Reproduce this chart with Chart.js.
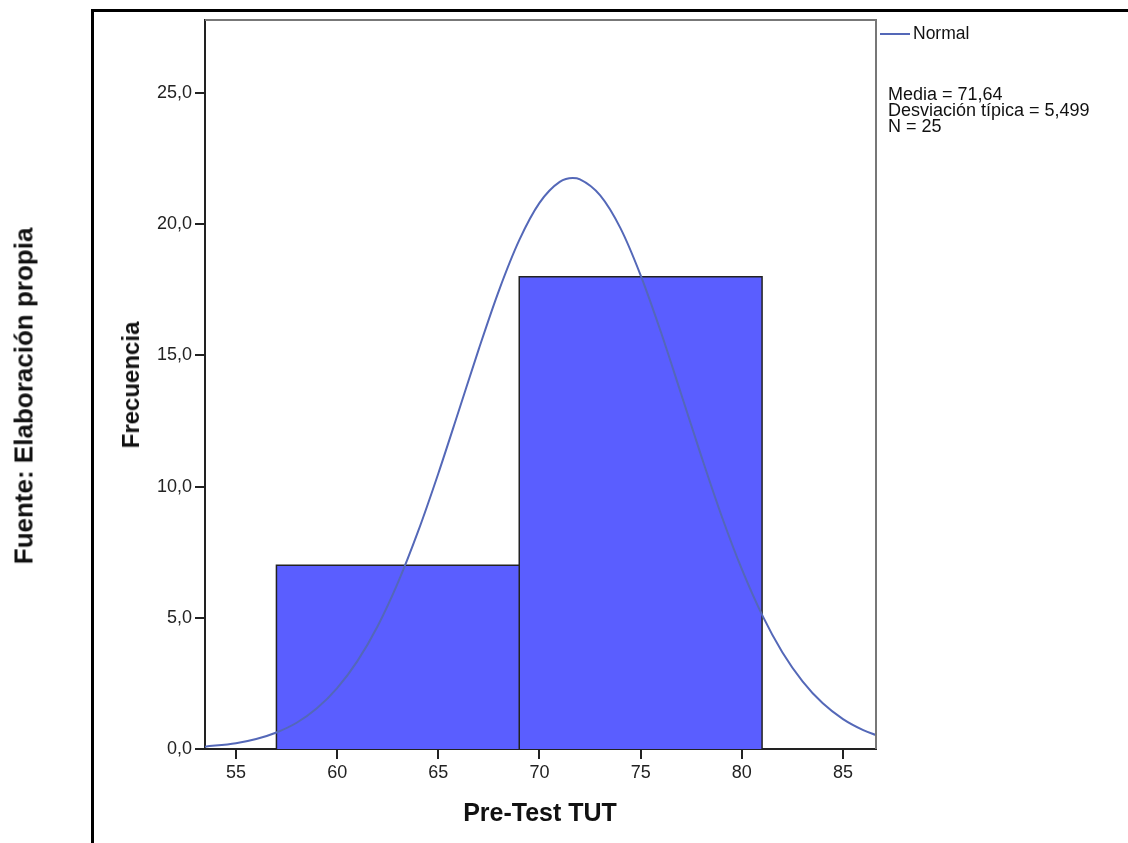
<!DOCTYPE html>
<html>
<head>
<meta charset="utf-8">
<script src="https://cdn.jsdelivr.net/npm/chart.js@4/dist/chart.umd.min.js"></script>
<style>
  body { margin: 0; background: #fff; font-family: "Liberation Sans", Arial, sans-serif; }
  #wrap { position: relative; width: 1128px; height: 843px; overflow: hidden; }
  #frame { position: absolute; left: 91px; top: 9px; width: 1200px; height: 1000px; border-top: 3px solid #000; border-left: 3px solid #000; }
  canvas { position: absolute; left: 0; top: 0; }
  .txt { position: absolute; white-space: nowrap; color: #111; }
  .vert { transform: translate(-50%, -50%) rotate(-90deg); font-weight: bold; }
  .title { font-weight: bold; transform: translate(-50%, -50%); }
</style>
</head>
<body>
<div id="wrap">
  <div id="frame"></div>
  <canvas id="myChart" width="1128" height="843"></canvas>
  <div class="txt vert" style="left:24px; top:396px; font-size:26px;">Fuente: Elaboración propia</div>
  <div class="txt vert" style="left:131px; top:385px; font-size:24px;">Frecuencia</div>
  <div class="txt title" style="left:540px; top:812px; font-size:25px;">Pre-Test TUT</div>
  <div class="txt" style="left:880px; top:24px; font-size:17.5px; line-height:18px;">
    <span style="display:inline-block; width:30px; height:2px; background:#5468b8; vertical-align:middle; margin-right:3px;"></span>Normal
  </div>
  <div class="txt" style="left:888px; top:86px; font-size:18px; line-height:16px;">
    Media = 71,64<br>Desviación típica = 5,499<br>N = 25
  </div>
</div>
<script>
// histogram bins
var binEdges = [57, 69, 81];
var counts = [7, 18];

// normal curve
var curveX = [53.47, 55, 56, 57, 58, 59, 60, 61, 62, 63, 64, 65, 66, 67, 68, 69, 70, 71, 71.64,
              72, 73, 74, 75, 76, 77, 78, 79, 80, 81, 82, 83, 84, 85, 86, 86.63];
var curveY = [0.09, 0.22, 0.38, 0.63, 1.00, 1.55, 2.32, 3.35, 4.68, 6.33, 8.29, 10.50, 12.86, 15.24, 17.48, 19.39, 20.81, 21.61, 21.76,
              21.71, 21.10, 19.85, 18.05, 15.89, 13.53, 11.15, 8.88, 6.85, 5.11, 3.69, 2.58, 1.74, 1.14, 0.72, 0.53];

var xTicks = [55, 60, 65, 70, 75, 80, 85];
var yTicks = [0, 5, 10, 15, 20, 25];

var datasets = [];

datasets.push({
    label: 'Normal',
    data: curveX.map(function (x, i) { return { x: x, y: curveY[i] }; }),
    borderColor: '#5468b8',
    borderWidth: 2,
    pointRadius: 0,
    fill: false,
    cubicInterpolationMode: 'monotone',
    order: 0
});

for (var i = 0; i < counts.length; i++) {
    var a = binEdges[i], b = binEdges[i + 1];
    datasets.push({
        label: 'bin' + i,
        data: [{ x: a, y: 0 }, { x: a, y: counts[i] }, { x: b, y: counts[i] }, { x: b, y: 0 }],
        backgroundColor: '#5a5eff',
        borderColor: '#222',
        borderWidth: 1.5,
        pointRadius: 0,
        tension: 0,
        fill: 'origin',
        order: 1
    });
}

// grey frame on top and right of the plot
var plotFrame = {
    id: 'plotFrame',
    afterDraw: function (chart) {
        var ca = chart.chartArea, ctx = chart.ctx;
        ctx.save();
        ctx.strokeStyle = '#777';
        ctx.lineWidth = 2;
        ctx.beginPath();
        ctx.moveTo(ca.left, ca.top);
        ctx.lineTo(ca.right, ca.top);
        ctx.lineTo(ca.right, ca.bottom);
        ctx.stroke();
        ctx.restore();
    }
};

var tickFont = { family: '"Liberation Sans", Arial, sans-serif', size: 18 };

var ctx = document.getElementById('myChart');
var myChart = new Chart(ctx, {
    type: 'line',
    data: { datasets: datasets },
    options: {
        responsive: false,
        animation: false,
        layout: { padding: { left: 140, top: 20, right: 252, bottom: 0 } },
        plugins: { legend: { display: false }, tooltip: { enabled: false } },
        scales: {
            x: {
                type: 'linear',
                min: 53.47,
                max: 86.63,
                afterFit: function (s) { s.height = 94; },
                afterBuildTicks: function (s) { s.ticks = xTicks.map(function (v) { return { value: v }; }); },
                ticks: { color: '#222', font: tickFont, padding: 3, maxRotation: 0 },
                grid: { drawOnChartArea: false, drawTicks: true, tickLength: 10, color: '#222', lineWidth: 2 },
                border: { display: true, color: '#222', width: 2 }
            },
            y: {
                min: 0,
                max: 27.78,
                afterFit: function (s) { s.width = 65; },
                afterBuildTicks: function (s) { s.ticks = yTicks.map(function (v) { return { value: v }; }); },
                ticks: {
                    color: '#222', font: tickFont, padding: 3,
                    callback: function (v) { return v.toFixed(1).replace('.', ','); }
                },
                grid: { drawOnChartArea: false, drawTicks: true, tickLength: 10, color: '#222', lineWidth: 2 },
                border: { display: true, color: '#222', width: 2 }
            }
        }
    },
    plugins: [plotFrame]
});
</script>
</body>
</html>
